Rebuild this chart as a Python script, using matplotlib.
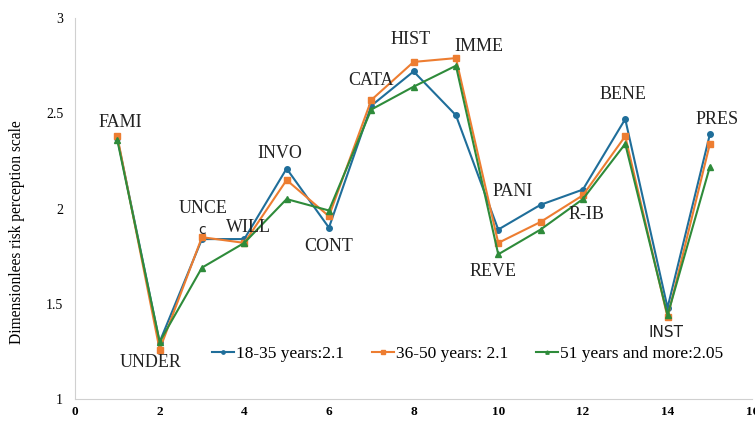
import matplotlib
matplotlib.use("Agg")
import matplotlib.pyplot as plt

x = list(range(1, 16))
young = [2.37, 1.30, 1.84, 1.84, 2.21, 1.90, 2.54, 2.72, 2.49, 1.89, 2.02, 2.10, 2.47, 1.48, 2.39]
middle = [2.38, 1.26, 1.85, 1.82, 2.15, 1.96, 2.57, 2.77, 2.79, 1.82, 1.93, 2.07, 2.38, 1.43, 2.34]
old = [2.36, 1.30, 1.69, 1.82, 2.05, 1.99, 2.52, 2.64, 2.75, 1.76, 1.89, 2.05, 2.34, 1.44, 2.22]
series_labels = ["18-35 years:2.1", "36-50 years: 2.1", "51 years and more:2.05"]

point_labels = ["FAMI", "UNDER", "UNCE", "WILL", "INVO", "CONT", "CATA", "HIST",
                "IMME", "REVE", "PANI", "R-IB", "BENE", "INST", "PRES"]
label_x = [1.07, 1.78, 3.03, 4.1, 4.83, 6.0, 7.0, 7.94, 9.55, 9.88, 10.35, 12.08, 12.94, 13.96, 15.17]
label_y = [2.45, 1.19, 2.0, 1.9, 2.29, 1.8, 2.67, 2.89, 2.85, 1.67, 2.09, 1.97, 2.6, 1.35, 2.47]

x_ticks = [0, 2, 4, 6, 8, 10, 12, 14, 16]
y_ticks = [1, 1.5, 2, 2.5, 3]
y_tick_labels = ["1", "1.5", "2", "2.5", "3"]

serif = "Liberation Serif"

fig = plt.figure(figsize=(7.55, 4.21), dpi=100)
ax = fig.add_axes([0.0993, 0.052, 0.897, 0.905])

colors = ["#1F6E9A", "#ED7D31", "#2E8B3A"]
markers = ["o", "s", "^"]
for vals, c, m, lab in zip([young, middle, old], colors, markers, series_labels):
    ax.plot(x, vals, color=c, marker=m, markersize=4, linewidth=1.5, label=lab)

for t, lx, ly in zip(point_labels, label_x, label_y):
    fam = "DejaVu Sans" if t == "INST" else serif
    sz = 11 if t == "INST" else 13
    ax.text(lx, ly, t, ha="center", va="center", fontsize=sz, family=fam, color="#222222")
ax.text(3.0, 1.89, "c", ha="center", va="center", fontsize=10, family="DejaVu Sans", color="#222222")

ax.set_xlim(0, 16)
ax.set_ylim(1, 3)
ax.set_xticks(x_ticks)
ax.set_xticklabels([str(v) for v in x_ticks], family=serif, fontweight="bold", fontsize=9.5)
ax.set_yticks(y_ticks)
ax.set_yticklabels(y_tick_labels, family=serif, fontsize=10)
ax.tick_params(length=0)
ax.tick_params(axis="x", pad=5)
ax.tick_params(axis="y", pad=8.5)
for s in ["top", "right"]:
    ax.spines[s].set_visible(False)
for s in ["left", "bottom"]:
    ax.spines[s].set_color("#D0D0D0")
ax.set_ylabel("Dimensionlees risk perception scale", family=serif, fontsize=11.2)
ax.yaxis.set_label_coords(-0.0739, 0.438)

leg = ax.legend(loc="center", bbox_to_anchor=(0.58, 0.118), ncol=3, frameon=False,
                prop={"family": serif, "size": 12.5}, handlelength=1.27, handletextpad=0.12,
                columnspacing=1.6, markerscale=0.6)

fig.savefig("out.png", dpi=100)
